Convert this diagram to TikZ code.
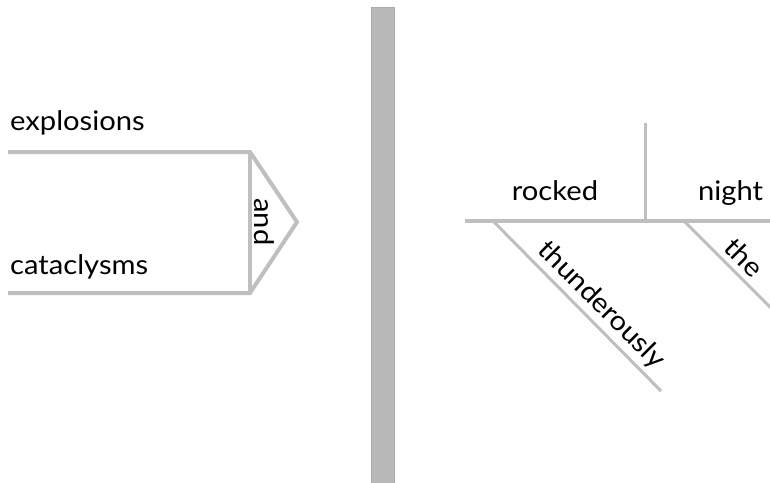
\documentclass[tikz,border=0pt]{standalone}
\usepackage{fontspec}
\setmainfont{Lato}[FakeStretch=1.08]
\begin{document}
\begin{tikzpicture}[x=1pt,y=-1pt,
  ln/.style={draw=black!25,line width=4pt},
  thin/.style={draw=black!25,line width=3pt},
  word/.style={font=\fontsize{27}{32}\selectfont,inner sep=0pt}]
\useasboundingbox (0,0) rectangle (770,482);
\clip (0,0) rectangle (770,482);
% vertical divider
\filldraw[fill=black!28,draw=black!33,line width=1pt] (371.5,7.5) rectangle (394.5,490);
% left compound subject
\coordinate (t0) at (8,152);
\coordinate (t1) at (250,152);
\coordinate (b0) at (8,293);
\coordinate (b1) at (250,293);
\coordinate (tip) at (297,222);
\draw[ln,line join=miter] (t0) -- (t1) -- (tip) -- (b1) -- (b0);
\draw[ln] (t1) -- (b1);
\node[word,anchor=base west] (explosions) at (10,130) {explosions};
\node[word,anchor=base west] (cataclysms) at (10,274) {cataclysms};
\node[word,rotate=-90] (and) at (264,222) {and};
% right predicate
\coordinate (h0) at (465,221);
\coordinate (h1) at (780,221);
\coordinate (d0) at (645,123);
\coordinate (d1) at (645,221);
\draw[ln] (h0) -- (h1);
\draw[thin] (d0) -- (d1);
\node[word,anchor=base] (rocked) at (555,200) {rocked};
\node[word,anchor=base west] (night) at (698,200) {night};
\coordinate (a0) at (494,222);
\coordinate (a1) at (661,391);
\draw[thin] (a0) -- (a1);
\node[word,rotate=-45,anchor=base west] (thunderously) at (536,251) {thunderously};
\coordinate (e0) at (685,222);
\coordinate (e1) at (800,337);
\draw[thin] (e0) -- (e1);
\node[word,rotate=-45,anchor=base west] (the) at (722,249) {the};
\end{tikzpicture}
\end{document}
